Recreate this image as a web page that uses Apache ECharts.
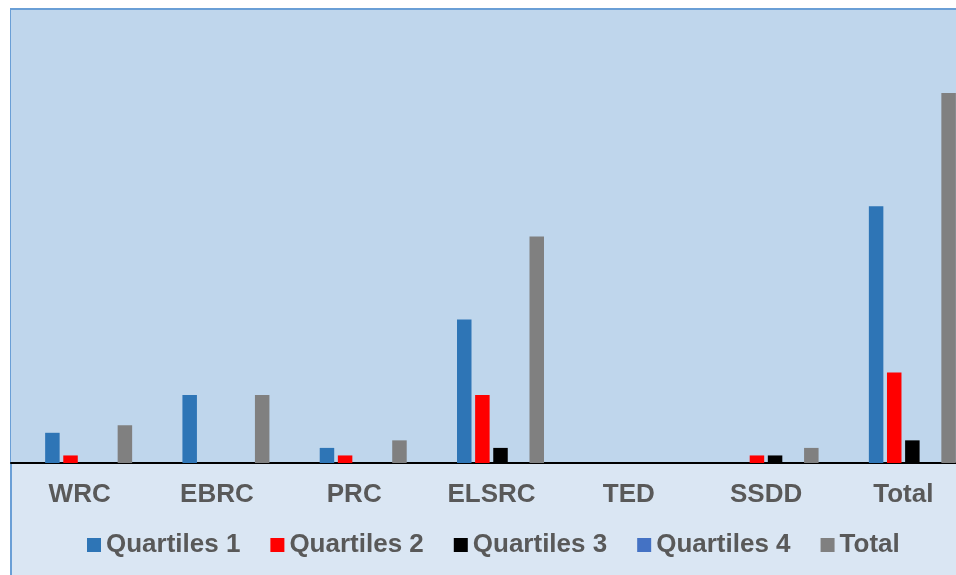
<!DOCTYPE html>
<html>
<head>
<meta charset="utf-8">
<script src="https://cdn.jsdelivr.net/npm/echarts@6/dist/echarts.min.js"></script>
<style>
  html, body { margin: 0; padding: 0; background: #fff; }
  #chart { width: 956px; height: 575px; }
</style>
</head>
<body>
<div id="chart"></div>
<script>
let categories = ['WRC', 'EBRC', 'PRC', 'ELSRC', 'TED', 'SSDD', 'Total']
let quartile1 = [4, 9, 2, 19, 0, 0, 34]
let quartile2 = [1, 0, 1, 9, 0, 1, 12]
let quartile3 = [0, 0, 0, 2, 0, 1, 3]
let quartile4 = [0, 0, 0, 0, 0, 0, 0]
let totals = [5, 9, 3, 30, 0, 2, 49]

let seriesNames = ['Quartiles 1', 'Quartiles 2', 'Quartiles 3', 'Quartiles 4', 'Total']
let seriesColors = ['#2e75b6', '#ff0000', '#000000', '#4472c4', '#808080']
let seriesData = [quartile1, quartile2, quartile3, quartile4, totals]

let chart = echarts.init(document.getElementById('chart'))

let labelFont = {
    color: '#595959',
    fontSize: 26,
    fontWeight: 'bold',
    fontFamily: 'Liberation Sans, Arial, sans-serif'
}

chart.setOption({
    animation: false,
    backgroundColor: '#ffffff',
    graphic: [
        {
            type: 'rect',
            z: -1,
            silent: true,
            shape: { x: 11, y: 9, width: 980, height: 600 },
            style: { fill: '#dae6f3', stroke: '#6a9fd6', lineWidth: 2 }
        }
    ],
    grid: [
        // bars
        { left: 20, width: 961, top: 10, bottom: 112, outerBoundsMode: 'none' },
        // plot frame + labels
        {
            left: 11, width: 961, top: 10, bottom: 112,
            outerBoundsMode: 'none',
            show: true,
            backgroundColor: '#bfd6ec',
            borderWidth: 0
        }
    ],
    legend: {
        left: 87,
        top: 532,
        padding: 0,
        itemWidth: 14,
        itemHeight: 14,
        itemGap: 30,
        icon: 'rect',
        textStyle: labelFont,
        data: seriesNames
    },
    xAxis: [
        {
            type: 'category',
            gridIndex: 0,
            data: categories,
            show: false
        },
        {
            type: 'category',
            gridIndex: 1,
            data: categories,
            axisLine: { lineStyle: { color: '#000', width: 2 } },
            axisTick: { show: false },
            axisLabel: Object.assign({ margin: 19, interval: 0 }, labelFont)
        }
    ],
    yAxis: [
        { type: 'value', gridIndex: 0, min: 0, max: 60, show: false },
        { type: 'value', gridIndex: 1, min: 0, max: 60, show: false }
    ],
    series: seriesNames.map((name, i) => ({
        name: name,
        type: 'bar',
        xAxisIndex: 0,
        yAxisIndex: 0,
        barWidth: 14.5,
        barGap: '25%',
        itemStyle: { color: seriesColors[i] },
        data: seriesData[i]
    }))
})
</script>
</body>
</html>
